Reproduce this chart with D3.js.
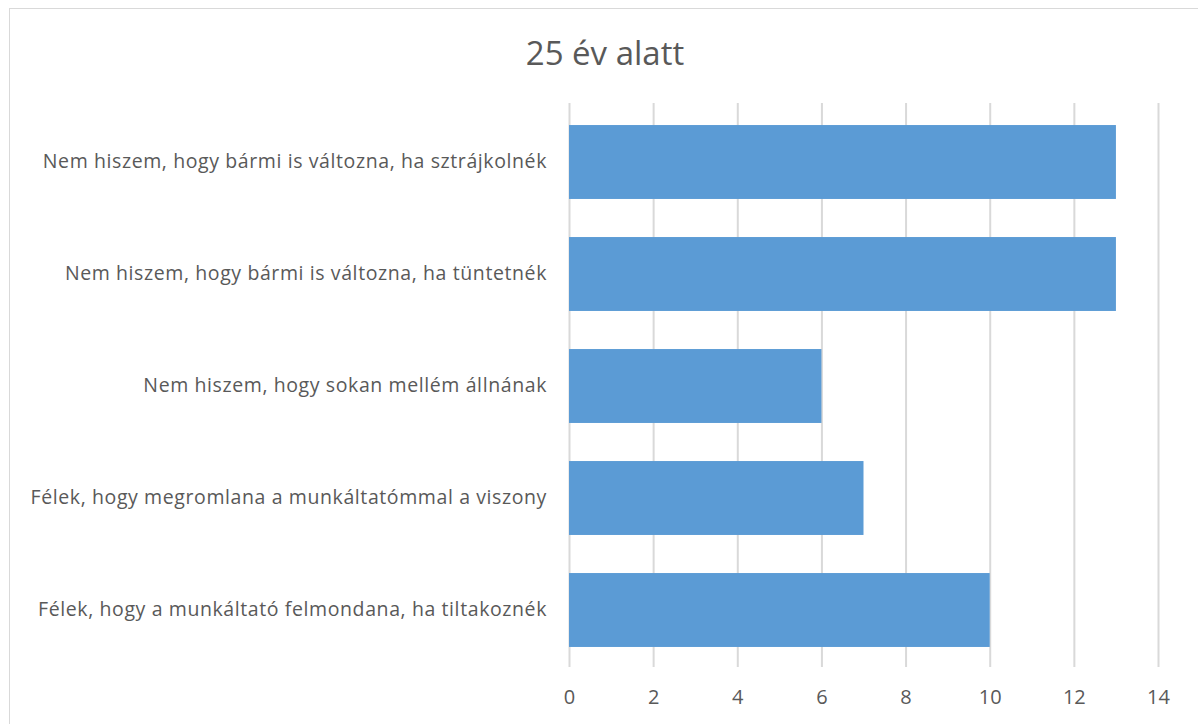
<!DOCTYPE html>
<html>
<head>
<meta charset="utf-8">
<script src="https://cdn.jsdelivr.net/npm/d3@7"></script>
<style>
  body { margin: 0; background: #fff; }
  text { font-family: "Open Sans", sans-serif; fill: #595959; }
</style>
</head>
<body>
<div id="chart"></div>
<script>
const categories = [
  'Nem hiszem, hogy bármi is változna, ha sztrájkolnék',
  'Nem hiszem, hogy bármi is változna, ha tüntetnék',
  'Nem hiszem, hogy sokan mellém állnának',
  'Félek, hogy megromlana a munkáltatómmal a viszony',
  'Félek, hogy a munkáltató felmondana, ha tiltakoznék'
];
const values = [13, 13, 6, 7, 10];
const xTicks = [0, 2, 4, 6, 8, 10, 12, 14];
const title = '25 év alatt';

const width = 1198;
const height = 724;
const plot = { left: 569, right: 1158, top: 106, bottom: 666 };

const svg = d3.select('#chart')
  .append('svg')
  .attr('width', width)
  .attr('height', height);

// chart frame (only left/top edges fall inside the picture)
svg.append('rect')
  .attr('x', 9.5)
  .attr('y', 8.5)
  .attr('width', 1230)
  .attr('height', 760)
  .attr('fill', 'none')
  .attr('stroke', '#d9d9d9');

const xScale = d3.scaleLinear()
  .domain([0, 14])
  .range([plot.left, plot.right]);

const yScale = d3.scaleBand()
  .domain(categories)
  .range([plot.top, plot.bottom])
  .paddingInner(0.34)
  .paddingOuter(0.17);

// gridlines
svg.append('g')
  .attr('class', 'gridlines')
  .attr('transform', `translate(0, ${plot.bottom + 1})`)
  .call(d3.axisBottom(xScale).tickValues(xTicks).tickFormat('').tickSize(-(plot.bottom + 1 - 103)))
  .call(g => g.select('.domain').remove())
  .call(g => g.selectAll('line').attr('stroke', '#d9d9d9').attr('stroke-width', 2));

svg.append('g')
  .selectAll('rect')
  .data(values)
  .join('rect')
  .attr('x', xScale(0))
  .attr('y', (d, i) => yScale(categories[i]))
  .attr('width', d => xScale(d) - xScale(0))
  .attr('height', yScale.bandwidth())
  .attr('fill', '#5b9bd5');

// x axis labels
svg.append('g')
  .attr('transform', `translate(0, ${plot.bottom})`)
  .call(d3.axisBottom(xScale).tickValues(xTicks).tickSize(0).tickPadding(24))
  .call(g => g.select('.domain').remove())
  .call(g => g.selectAll('text').style('font-size', '20px').style('font-family', '"Open Sans", sans-serif').attr('fill', '#595959'));

// y axis labels
svg.append('g')
  .attr('transform', `translate(${plot.left}, 0)`)
  .call(d3.axisLeft(yScale).tickSize(0).tickPadding(22))
  .call(g => g.select('.domain').remove())
  .call(g => g.selectAll('text')
    .style('font-size', '19.5px')
    .style('letter-spacing', '0.6px')
    .style('font-family', '"Open Sans", sans-serif')
    .attr('fill', '#595959'));

svg.append('text')
  .attr('x', 605)
  .attr('y', 65)
  .attr('text-anchor', 'middle')
  .style('font-size', '33px')
  .text(title);
</script>
</body>
</html>
